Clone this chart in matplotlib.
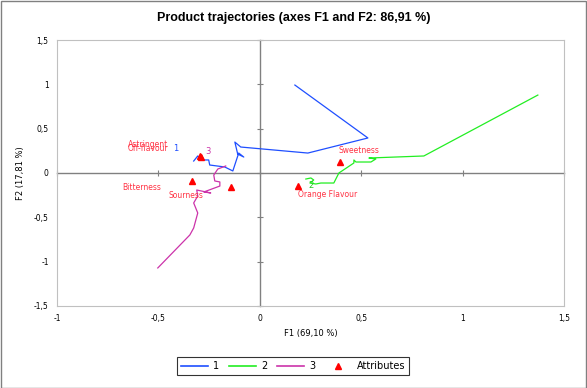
import matplotlib
matplotlib.use("Agg")
import matplotlib.pyplot as plt
from matplotlib.ticker import FuncFormatter, MultipleLocator, FixedLocator
from matplotlib.lines import Line2D
from matplotlib.patches import Rectangle

plt.rcParams['font.family'] = ['DejaVu Sans']

# trajectory of product 1 (blue)
p1_x = [-0.326, -0.306, -0.291, -0.252, -0.247, -0.173, -0.133, -0.104, -0.079, -0.109,
        -0.123, -0.094, 0.237, 0.533, 0.173]
p1_y = [0.135, 0.192, 0.147, 0.147, 0.090, 0.068, 0.023, 0.225, 0.180, 0.214,
        0.349, 0.293, 0.225, 0.395, 0.992]

# trajectory of product 2 (green)
p2_x = [0.227, 0.252, 0.266, 0.247, 0.276, 0.301, 0.326, 0.365, 0.390, 0.464,
        0.464, 0.474, 0.548, 0.572, 0.538, 0.809, 1.371]
p2_y = [-0.068, -0.056, -0.079, -0.113, -0.124, -0.113, -0.113, -0.113, 0.0, 0.113,
        0.147, 0.124, 0.124, 0.158, 0.169, 0.192, 0.879]

# trajectory of product 3 (magenta)
p3_x = [-0.168, -0.207, -0.227, -0.222, -0.197, -0.197, -0.276, -0.242, -0.311,
        -0.306, -0.326, -0.306, -0.326, -0.345, -0.503]
p3_y = [0.079, 0.045, -0.023, -0.090, -0.101, -0.147, -0.214, -0.225, -0.192,
        -0.259, -0.338, -0.451, -0.620, -0.699, -1.071]

# attributes
attr_names = ["Astringent", "Off-flavour", "Bitterness", "Sourness", "Orange Flavour", "Sweetness"]
attr_x = [-0.296, -0.290, -0.335, -0.143, 0.187, 0.395]
attr_y = [0.190, 0.175, -0.090, -0.158, -0.147, 0.124]
attr_offsets = [(-52, 12), (-53, 9), (-50, -7), (-45, -8), (30, -8), (19, 12)]

ticks = [-1.5, -1, -0.5, 0, 0.5, 1, 1.5]

c1, c2, c3 = "#1F4FFF", "#22EE22", "#CC33AA"
red = "#FF0000"
label_red = "#FF3344"

fig = plt.figure(figsize=(5.87, 3.88), dpi=100)
rect = [57 / 587, 1 - 306 / 388, (564 - 57) / 587, (306 - 40) / 388]
xlim = (-1, 1.5)
ylim = (-1.5001, 1.5001)

# axes holding the zero lines with their tick marks
ax0 = fig.add_axes(rect)
ax0.set_xlim(*xlim)
ax0.set_ylim(*ylim)
for s in ["top", "right"]:
    ax0.spines[s].set_visible(False)
ax0.spines["left"].set_position(("data", 0))
ax0.spines["bottom"].set_position(("data", 0))
for s in ["left", "bottom"]:
    ax0.spines[s].set_color("#808080")
    ax0.spines[s].set_linewidth(1.0)
ax0.xaxis.set_major_locator(MultipleLocator(0.5))
ax0.yaxis.set_major_locator(MultipleLocator(0.5))
ax0.tick_params(direction="inout", length=5, color="#808080", labelleft=False, labelbottom=False)

# main axes on top
ax = fig.add_axes(rect)
ax.patch.set_alpha(0)
ax.set_xlim(*xlim)
ax.set_ylim(*ylim)
ax.xaxis.set_major_locator(FixedLocator(ticks))
ax.yaxis.set_major_locator(FixedLocator(ticks))
fmt = FuncFormatter(lambda v, p: f"{v:g}".replace(".", ","))
ax.xaxis.set_major_formatter(fmt)
ax.yaxis.set_major_formatter(fmt)
ax.tick_params(length=0, labelsize=5.5, pad=6)
for s in ax.spines.values():
    s.set_color("#C0C0C0")
    s.set_linewidth(0.8)

ax.plot(p1_x, p1_y, color=c1, lw=0.9)
ax.plot(p2_x, p2_y, color=c2, lw=0.9)
ax.plot(p3_x, p3_y, color=c3, lw=0.9)

ax.annotate("1", (p1_x[0], p1_y[0]), xytext=(-18, 13), textcoords="offset pixels",
            color=c1, fontsize=6, ha="center", va="center")
ax.annotate("2", (p2_x[0], p2_y[0]), xytext=(5, -6), textcoords="offset pixels",
            color="#22CC22", fontsize=6, ha="center", va="center")
ax.annotate("3", (p3_x[0], p3_y[0]), xytext=(-18, 14), textcoords="offset pixels",
            color=c3, fontsize=6, ha="center", va="center")

ax.plot(attr_x, attr_y, linestyle="none", marker="^", color=red, markersize=4)
for name, x, y, off in zip(attr_names, attr_x, attr_y, attr_offsets):
    ax.annotate(name, (x, y), xytext=off, textcoords="offset pixels",
                color=label_red, fontsize=5.5, ha="center", va="center")

ax.set_xlabel("F1 (69,10 %)", fontsize=6, labelpad=4)
ax.set_ylabel("F2 (17,81 %)", fontsize=6, labelpad=6)

fig.text(0.5, 1 - 18 / 388, "Product trajectories (axes F1 and F2: 86,91 %)",
         ha="center", va="center", fontsize=9, fontweight="bold", family="Liberation Sans")

handles = [Line2D([], [], color=c1, lw=1.2),
           Line2D([], [], color=c2, lw=1.2),
           Line2D([], [], color=c3, lw=1.2),
           Line2D([], [], color=red, marker="^", linestyle="none", markersize=4)]
leg = fig.legend(handles, ["1", "2", "3", "Attributes"], loc="center",
                 bbox_to_anchor=(293 / 587, 1 - 366 / 388), ncol=4, fontsize=7,
                 frameon=True, fancybox=False, edgecolor="black", handlelength=2.8,
                 columnspacing=1.0, handletextpad=0.5, borderpad=0.4)
leg.get_frame().set_linewidth(0.8)

fig.patches.append(Rectangle((0.001, 0.001), 0.998, 0.997, transform=fig.transFigure,
                             fill=False, edgecolor="#808080", lw=1.0))

fig.savefig("out.png", dpi=100)
